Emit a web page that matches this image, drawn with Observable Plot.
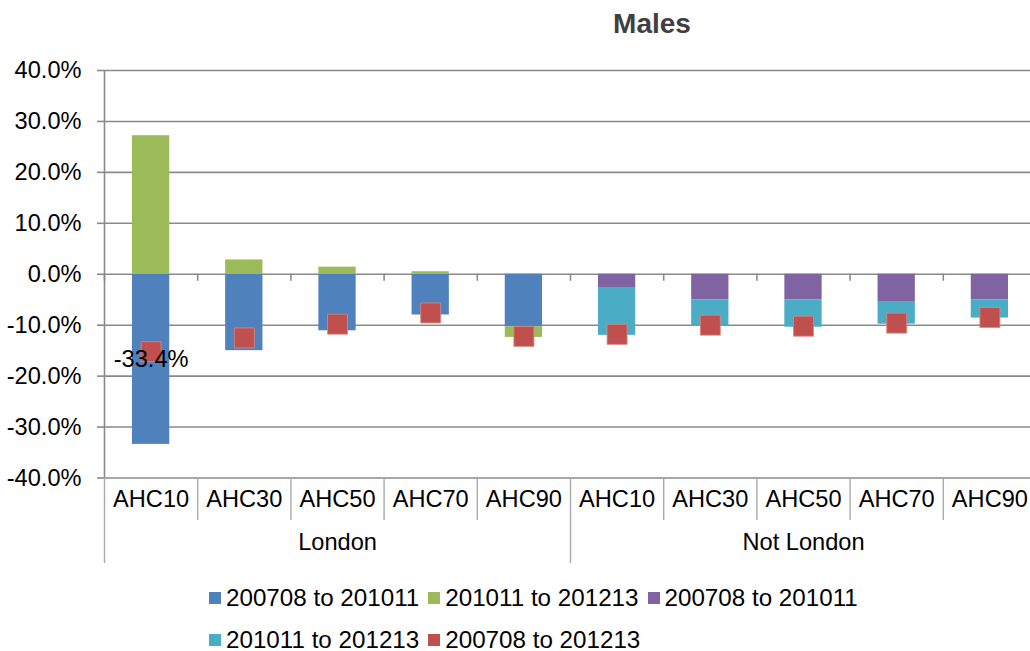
<!DOCTYPE html>
<html>
<head>
<meta charset="utf-8">
<script src="https://cdn.jsdelivr.net/npm/d3@7"></script>
<script src="https://cdn.jsdelivr.net/npm/@observablehq/plot@0.6"></script>
<style>
  html, body { margin: 0; padding: 0; background: #fff; overflow: hidden; }
  body { width: 1030px; height: 651px; position: relative; font-family: "Liberation Sans", Arial, sans-serif; }
  #title { position: absolute; top: 10px; left: 652px; transform: translateX(-50%); font-size: 28px; line-height: 28px; font-weight: bold; color: #404040; white-space: nowrap; }
  #chart { position: absolute; top: 0; left: 0; width: 1040px; }
  #chart svg { max-width: none !important; width: 1040px !important; height: 575px !important; }
  .lrow { position: absolute; left: 209px; height: 24px; display: flex; align-items: center; font-size: 24.2px; line-height: 24px; color: #000; white-space: nowrap; }
  .sw { width: 12px; height: 12px; margin-right: 5px; }
  .item { display: flex; align-items: center; margin-right: 9px; }
</style>
</head>
<body>
<div id="title">Males</div>
<div id="chart"></div>
<div id="legend"></div>
<script>
// ---- data ----
const categories = ["AHC10", "AHC30", "AHC50", "AHC70", "AHC90"];
const regions = ["London", "Not London"];
// London: 200708 to 201011 and 201011 to 201213
const londonA = [-0.334, -0.150, -0.111, -0.080, -0.103];
const londonB = [0.272, 0.028, 0.014, 0.005, -0.021];
// Not London: 200708 to 201011 and 201011 to 201213
const notLondonA = [-0.026, -0.050, -0.050, -0.055, -0.050];
const notLondonB = [-0.094, -0.052, -0.054, -0.043, -0.036];
// 200708 to 201213 (markers)
const londonTotal = [-0.152, -0.125, -0.098, -0.076, -0.122];
const notLondonTotal = [-0.118, -0.100, -0.102, -0.096, -0.085];
const yTicks = [-0.4, -0.3, -0.2, -0.1, 0, 0.1, 0.2, 0.3, 0.4];

const seriesNames = ["200708 to 201011", "201011 to 201213", "200708 to 201011", "201011 to 201213", "200708 to 201213"];
const seriesColors = ["#4F81BD", "#9BBB59", "#8064A2", "#4BACC6", "#C0504D"];

// ---- build tables ----
const sets = [
  {region: "London", a: londonA, b: londonB, t: londonTotal, ca: seriesColors[0], cb: seriesColors[1]},
  {region: "Not London", a: notLondonA, b: notLondonB, t: notLondonTotal, ca: seriesColors[2], cb: seriesColors[3]}
];
const bars = [];
const totals = [];
const cats = [];
sets.forEach((s, ri) => {
  categories.forEach((c, ci) => {
    const i = ri * categories.length + ci;
    const a = s.a[ci], b = s.b[ci];
    bars.push({i, y1: 0, y2: a, color: s.ca});
    if (Math.sign(a) === Math.sign(b)) bars.push({i, y1: a, y2: a + b, color: s.cb});
    else bars.push({i, y1: 0, y2: b, color: s.cb});
    totals.push({i, v: s.t[ci]});
    cats.push({i, label: c});
  });
});
const groups = regions.map((r, ri) => ({label: r, x: (ri + 0.5) * categories.length}));
const n = regions.length * categories.length;
const catSeps = d3.range(1, n).filter(k => k % categories.length !== 0);
const groupSeps = d3.range(0, n + 1, categories.length);
const boundaries = d3.range(0, n + 1);
const dataLabels = [{i: 0, v: londonA[0]}];

const fmt = d => (d * 100).toFixed(1) + "%";
const grid = "#8a8a8a";
const fs = 23.6;

const chart = Plot.plot({
  width: 1040,
  height: 575,
  marginTop: 70,
  marginBottom: 97.5,
  marginLeft: 104,
  marginRight: 4,
  style: {fontFamily: "'Liberation Sans', Arial, sans-serif", color: "#000", background: "transparent", maxWidth: "none"},
  x: {domain: [0, n], axis: null},
  y: {domain: [-0.4, 0.4], axis: null},
  color: {type: "identity"},
  marks: [
    Plot.gridY(yTicks, {stroke: grid, strokeOpacity: 1, strokeWidth: 1.6}),
    Plot.axisY(yTicks, {tickFormat: fmt, tickSize: 7, tickPadding: 16, fontSize: fs, stroke: grid, strokeWidth: 1.6, fill: "#000"}),
    Plot.ruleX([0], {stroke: grid, strokeWidth: 1.6}),
    // ticks on zero line at category boundaries
    Plot.ruleX(boundaries, {x: d => d, y1: 0, y2: 0, insetBottom: -7, stroke: grid, strokeWidth: 1.6}),
    // category label table separators
    Plot.ruleX(catSeps, {x: d => d, insetTop: 407.5, insetBottom: -42.5, stroke: "#aaa", strokeWidth: 1.4}),
    Plot.ruleX(groupSeps, {x: d => d, insetTop: 407.5, insetBottom: -85.5, stroke: "#aaa", strokeWidth: 1.4}),
    // stacked bars
    Plot.rectY(bars, {x1: d => d.i + 0.3, x2: d => d.i + 0.7, y1: "y1", y2: "y2", fill: "color"}),
    // total markers
    Plot.dot(totals, {x: d => d.i + 0.5, y: "v", symbol: "square", r: 11.3, fill: "#C0504D", stroke: "#d88a88", strokeWidth: 0.8}),
    // data label
    Plot.text(dataLabels, {x: d => d.i + 0.5, y: d => d.v / 2, text: d => fmt(d.v), fontSize: fs, fill: "#000"}),
    // category labels
    Plot.text(cats, {x: d => d.i + 0.5, frameAnchor: "bottom", dy: 28.5, text: "label", fontSize: fs, fill: "#000"}),
    Plot.text(groups, {x: "x", frameAnchor: "bottom", dy: 71.5, text: "label", fontSize: fs, fill: "#000"})
  ]
});
document.getElementById("chart").appendChild(chart);

// ---- legend ----
const legend = document.getElementById("legend");
const rows = [[0, 1, 2], [3, 4]];
const tops = [586, 628];
rows.forEach((r, k) => {
  const row = document.createElement("div");
  row.className = "lrow";
  row.style.top = tops[k] + "px";
  r.forEach(j => {
    const it = document.createElement("div");
    it.className = "item";
    const sw = document.createElement("div");
    sw.className = "sw";
    sw.style.background = seriesColors[j];
    const tx = document.createElement("span");
    tx.textContent = seriesNames[j];
    it.appendChild(sw);
    it.appendChild(tx);
    row.appendChild(it);
  });
  legend.appendChild(row);
});
</script>
</body>
</html>
